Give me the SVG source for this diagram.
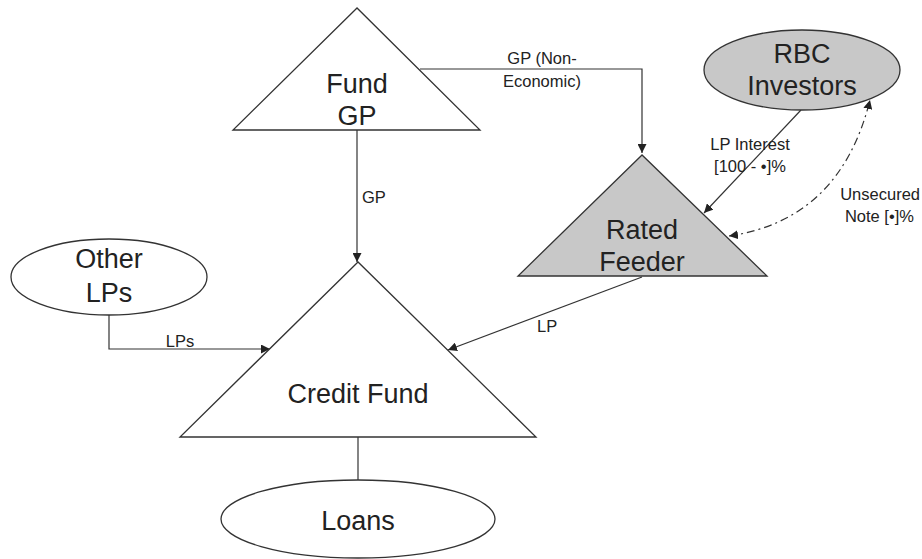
<svg xmlns="http://www.w3.org/2000/svg" width="922" height="559" viewBox="0 0 922 559">
<style>
.shape{stroke:#333;stroke-width:1.3;fill:#fff}
.gray{fill:#c8c8c8}
.big{font-family:"Liberation Sans",Arial,sans-serif;font-size:27px;fill:#222;text-anchor:middle}
.lbl{font-family:"Liberation Sans",Arial,sans-serif;font-size:16.5px;fill:#222}
.conn{stroke:#333;stroke-width:1.2;fill:none}
</style>
<defs>
<marker id="arr" viewBox="0 0 10 10" refX="10" refY="5" markerWidth="9" markerHeight="9" markerUnits="userSpaceOnUse" orient="auto-start-reverse">
<path d="M0,0 L10,5 L0,10 z" fill="#222"/>
</marker>
</defs>
<rect width="922" height="559" fill="#fff"/>
<g id="connectors">
<path class="conn" d="M420,69 H642 V153" marker-end="url(#arr)"/>
<path class="conn" d="M357,130 V262" marker-end="url(#arr)"/>
<path class="conn" d="M801,110 L704,213" marker-end="url(#arr)"/>
<path class="conn" d="M729,236 Q840,220 870,100" stroke-dasharray="8,4,2,4" marker-start="url(#arr)" marker-end="url(#arr)"/>
<path class="conn" d="M109,315 V349 H270" marker-end="url(#arr)"/>
<path class="conn" d="M642,277 L448,350" marker-end="url(#arr)"/>
<path class="conn" d="M358,437 V480"/>
<text class="lbl" x="542" y="64" text-anchor="middle">GP (Non-</text>
<text class="lbl" x="542" y="87" text-anchor="middle">Economic)</text>
<text class="lbl" x="362" y="203">GP</text>
<text class="lbl" x="750" y="150" text-anchor="middle">LP Interest</text>
<text class="lbl" x="750" y="172" text-anchor="middle">[100 - •]%</text>
<text class="lbl" x="920" y="200" text-anchor="end">Unsecured</text>
<text class="lbl" x="914" y="222" text-anchor="end">Note [•]%</text>
<text class="lbl" x="180" y="347" text-anchor="middle">LPs</text>
<text class="lbl" x="537" y="332">LP</text>
</g>
<g id="fund-gp">
<polygon class="shape" points="357,8 233,130 480,130"/>
<text class="big" x="357" y="93">Fund</text>
<text class="big" x="357" y="125">GP</text>
</g>
<g id="rated-feeder">
<polygon class="shape gray" points="642,155 518,276 767,276"/>
<text class="big" x="642" y="239">Rated</text>
<text class="big" x="642" y="271">Feeder</text>
</g>
<g id="rbc-investors">
<ellipse class="shape gray" cx="802" cy="70" rx="98" ry="40"/>
<text class="big" x="802" y="63">RBC</text>
<text class="big" x="802" y="95">Investors</text>
</g>
<g id="other-lps">
<ellipse class="shape" cx="109" cy="277" rx="98" ry="38"/>
<text class="big" x="109" y="268">Other</text>
<text class="big" x="109" y="302">LPs</text>
</g>
<g id="credit-fund">
<polygon class="shape" points="358,262 180,437 536,437"/>
<text class="big" x="358" y="403">Credit Fund</text>
</g>
<g id="loans">
<ellipse class="shape" cx="358" cy="519" rx="137" ry="39"/>
<text class="big" x="358" y="530">Loans</text>
</g>
</svg>
